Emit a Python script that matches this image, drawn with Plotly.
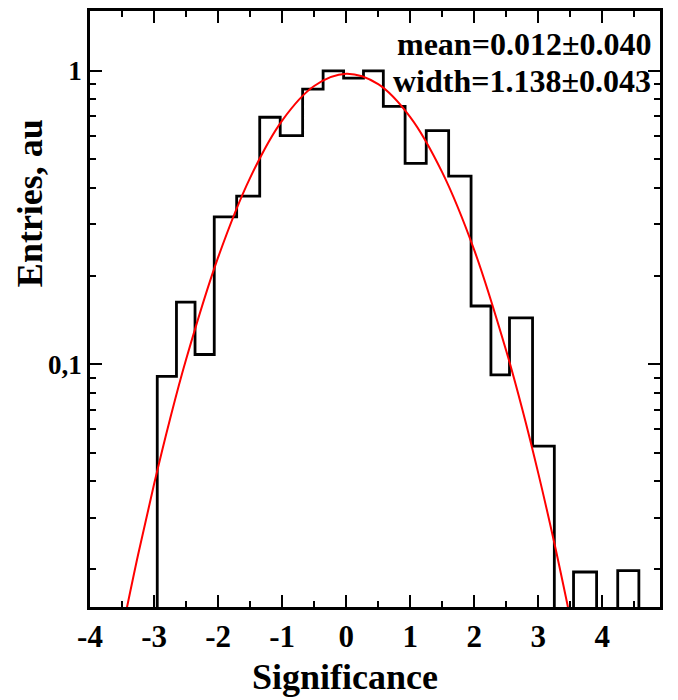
import plotly.graph_objects as go

# ---- histogram ----
bin_edges = [-2.95, -2.65, -2.36, -2.06, -1.71, -1.35, -1.03, -0.68, -0.36, -0.04,
             0.27, 0.58, 0.92, 1.25, 1.60, 1.95, 2.26, 2.55, 2.91, 3.25,
             3.55, 3.91, 4.24, 4.57]
entries = [0.091, 0.163, 0.108, 0.318, 0.374, 0.695, 0.602, 0.867, 1.0, 0.945,
           1.0, 0.757, 0.484, 0.626, 0.438, 0.158, 0.092, 0.144, 0.0526, 0,
           0.0196, 0, 0.0198]

# ---- gaussian fit curve ----
fit_x = [-3.5, -3.25, -3.0, -2.75, -2.5, -2.0, -1.5, -1.0, -0.5, 0.0,
         0.5, 1.0, 1.5, 2.0, 2.5, 2.75, 3.0, 3.25, 3.5]
fit_y = [0.0123, 0.0224, 0.039, 0.0651, 0.1038, 0.2313, 0.432, 0.677, 0.888, 0.977,
         0.901, 0.696, 0.451, 0.245, 0.111, 0.0703, 0.0425, 0.0246, 0.0136]

x_ticks = [-4, -3, -2, -1, 0, 1, 2, 3, 4]
x_ticktext = ["-4", "-3", "-2", "-1", "0", "1", "2", "3", "4"]
y_ticks = [0.1, 1]
y_ticktext = ["0,1", "1"]
y_minor = [0.02, 0.03, 0.04, 0.05, 0.06, 0.07, 0.08, 0.09,
           0.2, 0.3, 0.4, 0.5, 0.6, 0.7, 0.8, 0.9]

FONT = "Liberation Serif"
floor = 1e-4  # empty bins drop below the axis

# step outline: up from the floor, across each bin, back down at the end
hx = [bin_edges[0]] + bin_edges[:-1] + [bin_edges[-1]]
hy = [floor] + [v if v > 0 else floor for v in entries] + [floor]

fig = go.Figure()
fig.add_trace(go.Scatter(x=hx, y=hy, mode="lines", line_shape="hv",
                         line=dict(color="black", width=2.8), hoverinfo="skip"))
fig.add_trace(go.Scatter(x=fit_x, y=fit_y, mode="lines", line_shape="spline",
                         line=dict(color="#ff0000", width=2)))

# page body has an 8px margin, so the plot box sits 8px further in
fig.update_layout(
    width=678, height=700,
    margin=dict(l=82, r=26, t=0, b=101),
    paper_bgcolor="white", plot_bgcolor="white",
    showlegend=False,
    font=dict(family=FONT, color="black", size=28, weight="bold"),
)
fig.update_xaxes(
    range=[-4, 4.9], tickvals=x_ticks, ticktext=x_ticktext,
    ticks="inside", ticklen=12, tickwidth=2, tickcolor="black",
    showline=True, linewidth=2.5, linecolor="black", mirror="ticks",
    showgrid=False, zeroline=False,
    minor=dict(dtick=0.5, tick0=0, ticks="inside", ticklen=6, tickwidth=2,
               tickcolor="black", showgrid=False),
    tickfont=dict(size=31),
)
fig.update_yaxes(
    type="log", range=[-1.827, 0.204], tickvals=y_ticks, ticktext=y_ticktext,
    ticks="inside", ticklen=12, tickwidth=2, tickcolor="black",
    showline=True, linewidth=2.5, linecolor="black", mirror="ticks",
    showgrid=False, zeroline=False,
    minor=dict(tickvals=y_minor, ticks="inside", ticklen=6, tickwidth=2,
               tickcolor="black", showgrid=False),
    tickfont=dict(size=27),
)

# fit results
fig.add_annotation(text="mean=0.012±0.040", xref="paper", yref="paper",
                   x=0.988, y=0.9449, xanchor="right", yanchor="middle",
                   showarrow=False, font=dict(size=32))
fig.add_annotation(text="width=1.138±0.043", xref="paper", yref="paper",
                   x=0.988, y=0.8831, xanchor="right", yanchor="middle",
                   showarrow=False, font=dict(size=32))

# axis titles (not centred on the axes in the original)
fig.add_annotation(text="Significance", xref="paper", yref="paper",
                   x=(345 - 90) / 570, y=-(677 - 606.7) / 598.7,
                   xanchor="center", yanchor="middle", showarrow=False,
                   font=dict(size=36))
fig.add_annotation(text="Entries, au", xref="paper", yref="paper",
                   x=-(90 - 30) / 570, y=1 - (201 - 8) / 598.7,
                   xanchor="center", yanchor="middle", textangle=-90,
                   showarrow=False, font=dict(size=36))

fig.write_html("out.html")
